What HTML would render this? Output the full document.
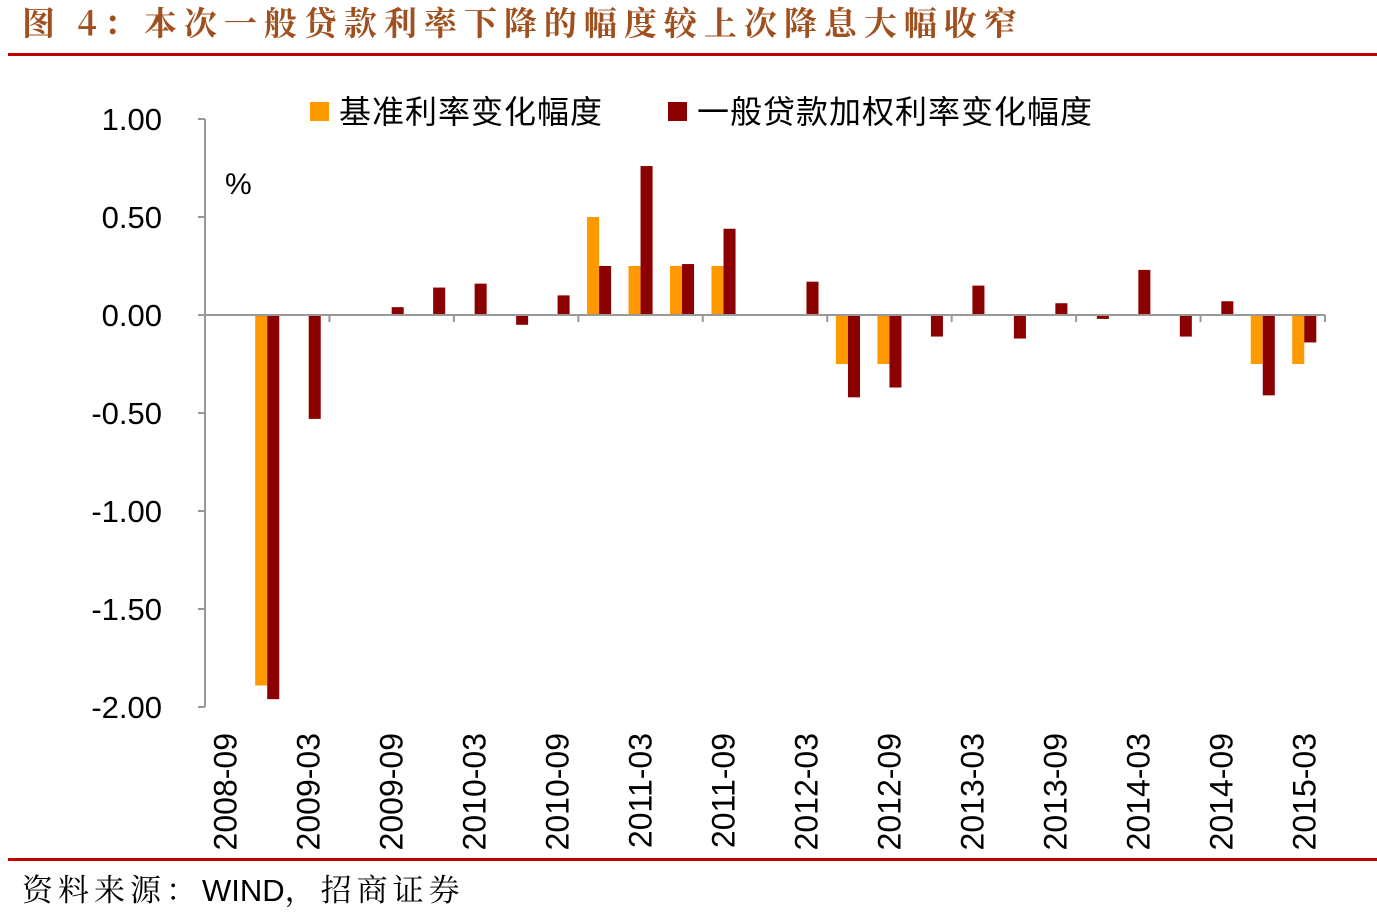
<!DOCTYPE html>
<html><head><meta charset="utf-8">
<style>
body{margin:0;width:1377px;height:914px;background:#fff;overflow:hidden;font-family:"Liberation Sans","Noto Sans CJK SC",sans-serif}
#title{position:absolute;left:22px;top:-2px;font-family:"Noto Serif CJK SC","Noto Sans CJK SC",serif;font-size:33px;font-weight:bold;color:#a0501e;letter-spacing:7px;white-space:nowrap}
.rule{position:absolute;left:8px;width:1369px;height:3px;background:#c00000}
#source{position:absolute;left:22px;top:865px;font-size:31px;color:#000;font-family:"Noto Serif CJK SC",serif;letter-spacing:5px;white-space:nowrap}
#source .en{font-family:"Liberation Sans",sans-serif;letter-spacing:0}
svg{position:absolute;left:0;top:0}
</style></head><body>
<div id="title">图 4：本次一般贷款利率下降的幅度较上次降息大幅收窄</div>
<div class="rule" style="top:53px"></div>
<div class="rule" style="top:858px"></div>
<div id="source">资料来源：<span class="en">WIND</span>，招商证券</div>
<svg id="chart" width="1377" height="914"></svg>
<script>
const categories=["2008-09","2008-12","2009-03","2009-06","2009-09","2009-12","2010-03","2010-06","2010-09","2010-12","2011-03","2011-06","2011-09","2011-12","2012-03","2012-06","2012-09","2012-12","2013-03","2013-06","2013-09","2013-12","2014-03","2014-06","2014-09","2014-12","2015-03"];
const benchmarkValues=[0,-1.89,0,0,0,0,0,0,0,0.50,0.25,0.25,0.25,0,0,-0.25,-0.25,0,0,0,0,0,0,0,0,-0.25,-0.25];
const weightedValues=[0,-1.96,-0.53,0,0.04,0.14,0.16,-0.05,0.10,0.25,0.76,0.26,0.44,0,0.17,-0.42,-0.37,-0.11,0.15,-0.12,0.06,-0.02,0.23,-0.11,0.07,-0.41,-0.14];
const yTicks=[1,0.5,0,-0.5,-1,-1.5,-2];
const yTickLabels=["1.00","0.50","0.00","-0.50","-1.00","-1.50","-2.00"];
const legendLabels=["基准利率变化幅度","一般贷款加权利率变化幅度"];

const NS="http://www.w3.org/2000/svg";
const svg=document.getElementById('chart');
const X0=205,X1=1325,Y0=119,Y1=707,yMin=-2,yMax=1;
const step=(X1-X0)/categories.length;
const y=v=>Y0+(yMax-v)/(yMax-yMin)*(Y1-Y0);
const xc=i=>X0+step*(i+0.5);
function mk(tag,attrs,text){const e=document.createElementNS(NS,tag);for(const k in attrs)e.setAttribute(k,attrs[k]);if(text!==undefined)e.textContent=text;svg.appendChild(e);return e;}

let ax=mk('line',{x1:X0,y1:Y0,x2:X0,y2:Y1,stroke:'#999','stroke-width':2});


yTicks.forEach((t,i)=>{
  let l=mk('line',{x1:X0-7,x2:X0,y1:y(t),y2:y(t),stroke:'#999','stroke-width':2});
  
  
  let tx=mk('text',{x:162,y:y(t)+11,'text-anchor':'end','font-size':31,fill:'#000'},yTickLabels[i]);
  
  
});
let unit=mk('text',{x:225,y:194,'font-size':30,fill:'#000'},'%');



const bw=step*0.29;
categories.forEach((c,i)=>{
  const v1=benchmarkValues[i],v2=weightedValues[i];
  if(v1!==0){let r=mk('rect',{x:xc(i)-bw,y:Math.min(y(v1),y(0)),width:bw,height:Math.abs(y(v1)-y(0)),fill:'#ff9900'});
    
    }
  if(v2!==0){let r=mk('rect',{x:xc(i),y:Math.min(y(v2),y(0)),width:bw,height:Math.abs(y(v2)-y(0)),fill:'#8b0000'});
    
    }
  if(i%2===0){
    let t=mk('text',{x:0,y:0,'font-size':32,fill:'#000','text-anchor':'end',transform:`translate(${xc(i)+11},733) rotate(-90)`},c);
    
    
  }
});
let xa=mk('line',{x1:X0,y1:y(0),x2:X1,y2:y(0),stroke:'#999','stroke-width':2});


for(let k=0;k<=categories.length;k+=3){
  let l=mk('line',{x1:X0+k*step,x2:X0+k*step,y1:y(0),y2:y(0)+7,stroke:'#999','stroke-width':2});
  
  
}
const legCols=['#ff9900','#8b0000'],legX=[310,668];
legendLabels.forEach((s,i)=>{
  let r=mk('rect',{x:legX[i],y:102,width:19,height:19,fill:legCols[i]});
  
  
  let t=mk('text',{x:legX[i]+29,y:123,'font-size':32,'letter-spacing':1,fill:'#000'},s);
  
  
});
</script>
</body></html>
